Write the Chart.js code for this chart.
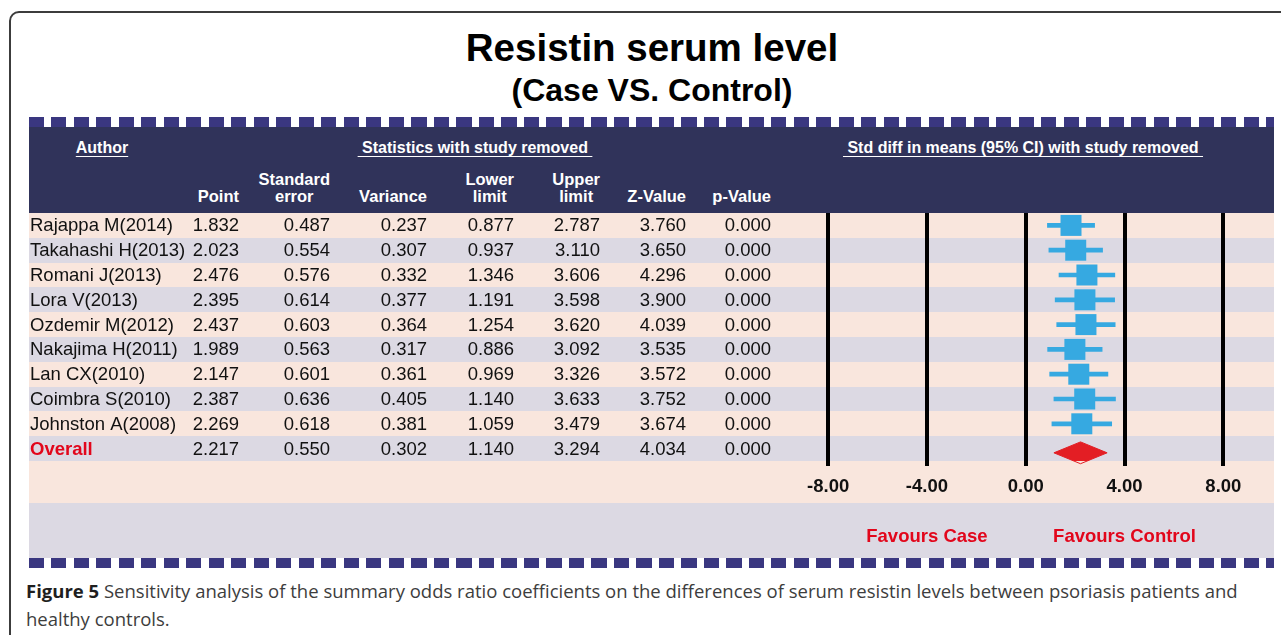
<!DOCTYPE html>
<html>
<head>
<meta charset="utf-8">
<title>Resistin serum level</title>
<script src="https://cdn.jsdelivr.net/npm/chart.js@4.4.0/dist/chart.umd.min.js"></script>
<style>
    body {
        margin: 0;
        width: 1281px;
        height: 635px;
        overflow: hidden;
        position: relative;
        background: #fff;
        font-family: "Liberation Sans", Arial, Helvetica, sans-serif;
    }
    .frame {
        position: absolute;
        left: 9px;
        top: 11px;
        width: 1320px;
        height: 700px;
        border: 2px solid #3c3c3c;
        border-radius: 10px;
        box-sizing: border-box;
    }
    .title {
        position: absolute;
        left: 652px;
        transform: translateX(-50%);
        white-space: nowrap;
        font-weight: bold;
        color: #000;
        line-height: 1;
    }
    .dashes {
        position: absolute;
        left: 29px;
        width: 1245px;
        height: 10px;
        background: repeating-linear-gradient(to right, #3a3780 0 15px, #fff 15px 22.5px);
    }
    .header {
        position: absolute;
        left: 29px;
        top: 127px;
        width: 1245px;
        height: 86px;
        background: #30335a;
    }
    .hd {
        position: absolute;
        color: #fff;
        font-weight: bold;
        white-space: nowrap;
    }
    .group {
        font-size: 16px;
        line-height: 18px;
        top: 139px;
        transform: translateX(-50%);
        text-decoration: underline;
        text-underline-offset: 3px;
    }
    .col {
        font-size: 16.5px;
        line-height: 17px;
        text-align: center;
        transform: translateX(-100%);
    }
    #plotWrap {
        position: absolute;
        left: 29px;
        top: 213px;
        width: 1245px;
        height: 345px;
    }
    .caption {
        position: absolute;
        left: 26px;
        top: 577px;
        font-family: "Open Sans", "Noto Sans", sans-serif;
        font-size: 18.5px;
        line-height: 28px;
        color: #3d3d3d;
        white-space: nowrap;
    }
    .caption b {
        color: #1f1f1f;
    }
</style>
</head>
<body>
<div class="frame"></div>
<div class="title" style="top: 29px; font-size: 38.5px;">Resistin serum level</div>
<div class="title" style="top: 74px; font-size: 32px;">(Case VS. Control)</div>

<div class="dashes" style="top: 117px;"></div>
<div class="header"></div>
<div class="hd group" style="left: 102px;">Author</div>
<div class="hd group" style="left: 475px;">&nbsp;Statistics with study removed&nbsp;</div>
<div class="hd group" style="left: 1023px;">&nbsp;Std diff in means (95% CI) with study removed&nbsp;</div>
<div id="colHeads"></div>

<div id="plotWrap"><canvas id="forestChart"></canvas></div>
<div class="dashes" style="top: 558px;"></div>

<div class="caption"><b>Figure 5</b> Sensitivity analysis of the summary odds ratio coefficients on the differences of serum resistin levels between psoriasis patients and<br>healthy controls.</div>

<script>
// Study rows (last row is the pooled estimate)
const studies = ['Rajappa M(2014)', 'Takahashi H(2013)', 'Romani J(2013)', 'Lora V(2013)', 'Ozdemir M(2012)',
    'Nakajima H(2011)', 'Lan CX(2010)', 'Coimbra S(2010)', 'Johnston A(2008)', 'Overall'];
const pointEst = [1.832, 2.023, 2.476, 2.395, 2.437, 1.989, 2.147, 2.387, 2.269, 2.217];
const stdError = [0.487, 0.554, 0.576, 0.614, 0.603, 0.563, 0.601, 0.636, 0.618, 0.550];
const variance = [0.237, 0.307, 0.332, 0.377, 0.364, 0.317, 0.361, 0.405, 0.381, 0.302];
const lowerLimit = [0.877, 0.937, 1.346, 1.191, 1.254, 0.886, 0.969, 1.140, 1.059, 1.140];
const upperLimit = [2.787, 3.110, 3.606, 3.598, 3.620, 3.092, 3.326, 3.633, 3.479, 3.294];
const zValue = [3.760, 3.650, 4.296, 3.900, 4.039, 3.535, 3.572, 3.752, 3.674, 4.034];
const pValue = [0.000, 0.000, 0.000, 0.000, 0.000, 0.000, 0.000, 0.000, 0.000, 0.000];
const axisTicks = [-8, -4, 0, 4, 8];
const favourLabels = [['Favours Case', -4], ['Favours Control', 4]];

// Column headers and where their right edges sit on the page
const colHeads = [['', 'Point'], ['Standard', 'error'], ['', 'Variance'], ['Lower', 'limit'],
    ['Upper', 'limit'], ['', 'Z-Value'], ['', 'p-Value']];
const colRight = [239, 330, 427, 514, 600, 686, 771];
const tableCols = [pointEst, stdError, variance, lowerLimit, upperLimit, zValue, pValue];

const PEACH = '#f9e6dd';
const LAVENDER = '#dcd9e3';
const BLUE = '#36a9e1';
const RED = '#e31e24';
const LABEL_RED = '#e2061b';
const WRAP_LEFT = 29;
const TEXT_FONT = '"Liberation Sans", Arial, sans-serif';

// Build header cells
const headHolder = document.getElementById('colHeads');
colHeads.forEach((h, i) => {
    const cell = document.createElement('div');
    cell.className = 'hd col';
    cell.style.left = colRight[i] + 'px';
    cell.style.top = h[0] ? '171px' : '188px';
    cell.innerHTML = h[0] ? h[0] + '<br>' + h[1] : h[1];
    headHolder.appendChild(cell);
});

const lastRow = studies.length - 1;

// Row shading, table text and favour labels
const forestTable = {
    id: 'forestTable',
    beforeDraw(chart) {
        const { ctx, chartArea, scales: { y } } = chart;
        const w = chart.width;
        ctx.save();
        studies.forEach((s, i) => {
            const top = Math.round(y.getPixelForValue(i - 0.5));
            const bottom = Math.round(y.getPixelForValue(i + 0.5));
            ctx.fillStyle = i % 2 === 0 ? PEACH : LAVENDER;
            ctx.fillRect(0, top, w, bottom - top);
        });
        const tickRow = 42;
        ctx.fillStyle = PEACH;
        ctx.fillRect(0, chartArea.bottom, w, tickRow);
        ctx.fillStyle = LAVENDER;
        ctx.fillRect(0, chartArea.bottom + tickRow, w, chart.height - chartArea.bottom - tickRow);
        ctx.restore();
    },
    afterDraw(chart) {
        const { ctx, chartArea, scales: { x, y } } = chart;
        ctx.save();
        ctx.textBaseline = 'middle';
        studies.forEach((s, i) => {
            const cy = y.getPixelForValue(i) + 1;
            if (i === lastRow) {
                ctx.font = 'bold 18.5px ' + TEXT_FONT;
                ctx.fillStyle = LABEL_RED;
            } else {
                ctx.font = '18.5px ' + TEXT_FONT;
                ctx.fillStyle = '#111';
            }
            ctx.textAlign = 'left';
            ctx.fillText(s, 30 - WRAP_LEFT, cy);

            ctx.font = '18.5px ' + TEXT_FONT;
            ctx.fillStyle = '#111';
            ctx.textAlign = 'right';
            tableCols.forEach((col, c) => {
                ctx.fillText(col[i].toFixed(3), colRight[c] - WRAP_LEFT, cy);
            });
        });

        ctx.font = 'bold 18.5px ' + TEXT_FONT;
        ctx.fillStyle = LABEL_RED;
        ctx.textAlign = 'center';
        favourLabels.forEach(([txt, at]) => {
            ctx.fillText(txt, x.getPixelForValue(at), chartArea.bottom + 76);
        });
        ctx.restore();
    }
};

// Marks
const ciData = studies.slice(0, lastRow).map((s, i) => ({ x: [lowerLimit[i], upperLimit[i]], y: i }));
const squareData = studies.slice(0, lastRow).map((s, i) => ({ x: pointEst[i], y: i }));
const dy = 0.17, half = 0.44;
const diamondData = [
    { x: lowerLimit[lastRow], y: lastRow + dy },
    { x: pointEst[lastRow], y: lastRow + dy - half },
    { x: upperLimit[lastRow], y: lastRow + dy },
    { x: pointEst[lastRow], y: lastRow + dy + half },
    { x: lowerLimit[lastRow], y: lastRow + dy }
];

new Chart(document.getElementById('forestChart'), {
    type: 'scatter',
    data: {
        datasets: [{
            type: 'bar',
            indexAxis: 'y',
            data: ciData,
            backgroundColor: BLUE,
            borderWidth: 0,
            barThickness: 4,
            order: 2
        }, {
            type: 'scatter',
            data: squareData,
            pointStyle: 'rect',
            pointRadius: 14.85,
            backgroundColor: BLUE,
            borderWidth: 0,
            order: 1
        }, {
            type: 'line',
            data: diamondData,
            showLine: true,
            fill: 'shape',
            backgroundColor: RED,
            borderColor: RED,
            borderWidth: 1,
            pointRadius: 0,
            tension: 0,
            clip: false,
            order: 0
        }]
    },
    options: {
        responsive: true,
        maintainAspectRatio: false,
        animation: false,
        events: [],
        layout: { autoPadding: false, padding: { left: 770, right: 0, top: 0, bottom: 0 } },
        plugins: {
            legend: { display: false },
            tooltip: { enabled: false }
        },
        scales: {
            x: {
                type: 'linear',
                min: -9.18,
                max: 10.05,
                offset: false,
                afterBuildTicks: s => { s.ticks = axisTicks.map(v => ({ value: v })); },
                afterFit: s => { s.height = 97; },
                grid: {
                    color: '#000',
                    lineWidth: 4,
                    tickLength: 5,
                    tickColor: '#000',
                    offset: false,
                    drawOnChartArea: true
                },
                border: { display: false },
                ticks: {
                    callback: v => v.toFixed(2),
                    font: { family: TEXT_FONT, size: 18.5, weight: 'bold' },
                    color: '#111',
                    padding: 10,
                    maxRotation: 0,
                    autoSkip: false
                }
            },
            y: {
                type: 'linear',
                min: -0.5,
                max: 9.5,
                reverse: true,
                offset: false,
                grid: { offset: false },
                display: false
            }
        }
    },
    plugins: [forestTable]
});
</script>
</body>
</html>
